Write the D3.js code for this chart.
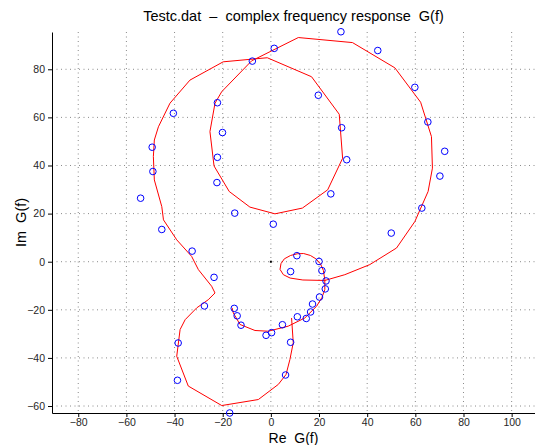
<!DOCTYPE html>
<html>
<head>
<meta charset="utf-8">
<script src="https://cdn.jsdelivr.net/npm/d3@7"></script>
<style>
  body { margin: 0; background: #fff; }
  text { font-family: "Liberation Sans", Helvetica, Arial, sans-serif; white-space: pre; }
</style>
</head>
<body>
<div class="chart"></div>
<script>
// model curve (red line), real / imaginary parts
var fitRe = [8.6, 9.3, 7.9, 6.3, 3.1, -5.2, -20.4, -34.3, -39.1, -37.7, -35.6, -30.8, -26.0, -23.2, -24.6,
  -30.1, -32.9, -39.1, -44.6, -45.3, -48.4, -48.8, -48.4, -46.7, -41.9, -33.6, -19.8, -1.5, 16.9, 28.4,
  29.8, 23.6, 13.1, 1.7, -8.7, -17.3, -23.6, -25.3, -23.2, -20.4, -8.0, 11.4, 33.9, 51.5, 62.2, 66.7,
  67.1, 65.3, 59.8, 52.2, 41.1, 30.7, 22.4, 13.3, 8.0, 5.2, 3.8, 4.2, 5.6, 8.2, 11.0, 13.6, 16.4, 18.7,
  20.6, 21.8, 22.4, 22.4, 21.2, 19.0, 14.1, 7.2, -1.1, -6.6, -12.8, -15.6, -16.1];
var fitIm = [-23.4, -33.7, -40.7, -46.9, -51.0, -57.3, -59.8, -51.7, -39.3, -28.2, -24.1, -19.2, -15.8, -13.0, -10.2,
  -3.3, 2.2, 9.1, 17.4, 22.9, 34.0, 43.7, 50.6, 56.1, 65.9, 75.5, 83.1, 84.8, 76.9, 61.3,
  43.0, 29.9, 22.3, 19.9, 22.7, 29.2, 39.8, 54.1, 65.9, 70.7, 83.5, 93.2, 91.1, 80.6, 66.3, 52.0,
  38.9, 29.2, 16.7, 5.7, -1.2, -5.4, -7.8, -7.6, -6.8, -5.4, -3.2, -0.8, 1.2, 2.6, 3.3, 3.4, 2.6, 1.2,
  -0.9, -3.6, -7.5, -11.6, -14.9, -18.5, -23.4, -26.8, -28.9, -28.6, -26.1, -21.3, -19.2];

// measured points (blue circles)
var measRe = [-7.7, 1.4, 29.1, 44.4, -22.2, -40.5, 19.7, 59.8, -20.1, 29.4, 65.2, -49.3, -22.2, 72.2, 31.5,
  -49.0, 70.2, -22.4, 24.9, -54.1, 62.7, -15.0, 1.0, -45.3, 50.0, -32.7, -23.6, 10.8, 20.0, 8.2,
  21.2, 22.9, 22.6, 20.2, 17.3, 16.5, 11.0, 14.7, 4.8, 0.3, -2.0, 8.2, 6.1, -27.6, -15.2,
  -14.0, -12.4, -38.5, -38.8, -17.1];
var measIm = [83.4, 88.7, 95.6, 87.8, 66.1, 61.7, 69.2, 72.5, 53.7, 55.7, 58.1, 47.6, 43.4, 45.9, 42.4,
  37.5, 35.6, 32.9, 28.2, 26.4, 22.3, 20.2, 15.6, 13.4, 11.9, 4.4, -6.5, 2.5, 0.1, -4.1,
  -3.7, -8.0, -11.3, -14.7, -17.6, -20.9, -22.9, -23.6, -26.2, -29.5, -30.6, -33.5, -47.1, -18.4, -19.4,
  -22.5, -26.4, -33.8, -49.3, -62.9];

var originRe = [0], originIm = [0];

var xTicks = [-80, -60, -40, -20, 0, 20, 40, 60, 80, 100];
var yTicks = [-60, -40, -20, 0, 20, 40, 60, 80];

var titleText = "Testc.dat  \u2013  complex frequency response  G(f)";
var xLabel = "Re  G(f)";
var yLabel = "Im  G(f)";

var W = 535, H = 445;
var margin = {top: 32, right: 0, bottom: 32, left: 52},
    width = W - margin.left - margin.right,
    height = H - margin.top - margin.bottom;

var svg = d3.select(".chart").append("svg")
    .attr("width", W)
    .attr("height", H);

var g = svg.append("g")
    .attr("transform", "translate(" + margin.left + "," + margin.top + ")");

var x = d3.scaleLinear().domain([-90.9, 109.7]).range([0, width]);
var y = d3.scaleLinear().domain([-62.9, 95.5]).range([height, 0]);

// grid
g.selectAll(".vgrid").data(xTicks).enter().append("line")
    .attr("x1", function(d){ return x(d); }).attr("x2", function(d){ return x(d); })
    .attr("y1", 0).attr("y2", height)
    .attr("stroke", "#8a8a8a").attr("stroke-dasharray", "1,3.5");
g.selectAll(".hgrid").data(yTicks).enter().append("line")
    .attr("y1", function(d){ return y(d); }).attr("y2", function(d){ return y(d); })
    .attr("x1", 0).attr("x2", width)
    .attr("stroke", "#8a8a8a").attr("stroke-dasharray", "1,3.5");

// axes
var xAxis = d3.axisBottom(x).tickValues(xTicks).tickSizeInner(4).tickSizeOuter(0).tickPadding(2);
var yAxis = d3.axisLeft(y).tickValues(yTicks).tickSizeInner(4).tickSizeOuter(0).tickPadding(3);

var gx = g.append("g").attr("transform", "translate(0," + height + ")").call(xAxis);
var gy = g.append("g").call(yAxis);
[gx, gy].forEach(function(a){
  a.select(".domain").attr("stroke", "#000").attr("stroke-width", 1);
  a.selectAll(".tick line").attr("stroke", "#000");
  a.selectAll(".tick text").attr("fill", "#262626").style("font-size", "10.5px")
    .style("font-family", "'Liberation Sans', Helvetica, Arial, sans-serif");
});

// model line
var pts = fitRe.map(function(d, i){ return [d, fitIm[i]]; });
var line = d3.line()
    .x(function(d){ return x(d[0]); })
    .y(function(d){ return y(d[1]); });
g.append("path")
    .datum(pts)
    .attr("d", line)
    .attr("fill", "none")
    .attr("stroke", "#ff0000")
    .attr("stroke-width", 1);

// measured points
g.selectAll(".meas").data(measRe).enter().append("circle")
    .attr("class", "meas")
    .attr("cx", function(d){ return x(d); })
    .attr("cy", function(d, i){ return y(measIm[i]); })
    .attr("r", 3.3)
    .attr("fill", "none")
    .attr("stroke", "#0000ff")
    .attr("stroke-width", 1);

// origin dot
g.selectAll(".orig").data(originRe).enter().append("rect")
    .attr("x", function(d){ return x(d) - 1; })
    .attr("y", function(d, i){ return y(originIm[i]) - 1; })
    .attr("width", 2).attr("height", 2)
    .attr("fill", "#000");

// labels
svg.append("text")
    .attr("x", margin.left + width / 2).attr("y", 21)
    .attr("text-anchor", "middle")
    .style("font-size", "14.5px")
    .text(titleText);

svg.append("text")
    .attr("x", margin.left + width / 2).attr("y", 442.5)
    .attr("text-anchor", "middle")
    .style("font-size", "14px")
    .text(xLabel);

svg.append("text")
    .attr("text-anchor", "middle")
    .attr("transform", "translate(26," + (margin.top + height / 2) + ")rotate(-90)")
    .style("font-size", "14.5px")
    .text(yLabel);
</script>
</body>
</html>
